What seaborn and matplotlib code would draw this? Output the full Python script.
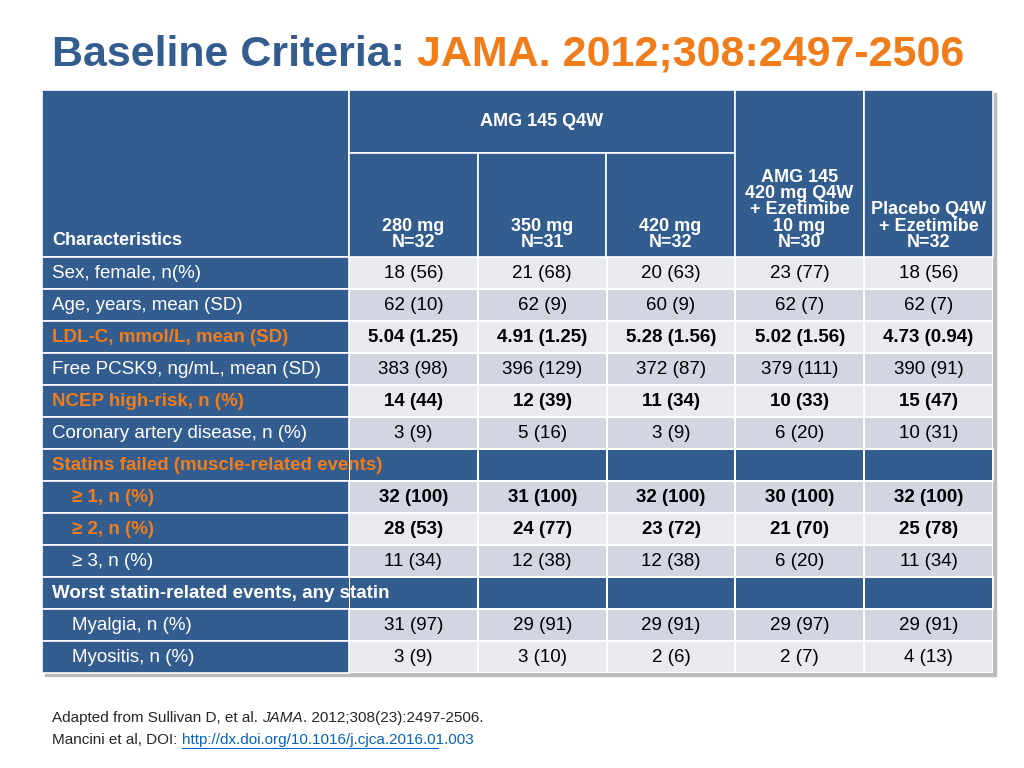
import numpy as np
import seaborn as sns
import matplotlib.pyplot as plt
from matplotlib.colors import ListedColormap
from matplotlib.patches import Rectangle

sns.set_style('white')
plt.rcParams['font.family'] = ['Liberation Sans Narrow', 'Liberation Sans', 'DejaVu Sans']

BLUE = '#345d8f'
ORANGE = '#f07c1a'
LIGHT = '#e9eaef'
DARK = '#d1d6e0'

groups = ['280 mg\nN=32', '350 mg\nN=31', '420 mg\nN=32',
          'AMG 145\n420 mg Q4W\n+ Ezetimibe\n10 mg\nN=30', 'Placebo Q4W\n+ Ezetimibe\nN=32']
row_labels = ['Sex, female, n(%)', 'Age, years, mean (SD)', 'LDL-C, mmol/L, mean (SD)',
              'Free PCSK9, ng/mL, mean (SD)', 'NCEP high-risk, n (%)', 'Coronary artery disease, n (%)',
              'Statins failed (muscle-related events)', '≥ 1, n (%)', '≥ 2, n (%)', '≥ 3, n (%)',
              'Worst statin-related events, any statin', 'Myalgia, n (%)', 'Myositis, n (%)']
values = [
    ['18 (56)', '21 (68)', '20 (63)', '23 (77)', '18 (56)'],
    ['62 (10)', '62 (9)', '60 (9)', '62 (7)', '62 (7)'],
    ['5.04 (1.25)', '4.91 (1.25)', '5.28 (1.56)', '5.02 (1.56)', '4.73 (0.94)'],
    ['383 (98)', '396 (129)', '372 (87)', '379 (111)', '390 (91)'],
    ['14 (44)', '12 (39)', '11 (34)', '10 (33)', '15 (47)'],
    ['3 (9)', '5 (16)', '3 (9)', '6 (20)', '10 (31)'],
    None,
    ['32 (100)', '31 (100)', '32 (100)', '30 (100)', '32 (100)'],
    ['28 (53)', '24 (77)', '23 (72)', '21 (70)', '25 (78)'],
    ['11 (34)', '12 (38)', '12 (38)', '6 (20)', '11 (34)'],
    None,
    ['31 (97)', '29 (91)', '29 (91)', '29 (97)', '29 (91)'],
    ['3 (9)', '3 (10)', '2 (6)', '2 (7)', '4 (13)'],
]
orange_rows = [2, 4, 6, 7, 8]
bold_rows = [2, 4, 7, 8]
indent_rows = [7, 8, 9, 11, 12]
section_rows = [6, 10]

W, H = 1024, 768
fig = plt.figure(figsize=(10.24, 7.68), dpi=100)
bg = fig.add_axes([0, 0, 1, 1])
bg.set_xlim(0, W)
bg.set_ylim(H, 0)
bg.axis('off')

xs = [42, 349, 478, 606, 735, 864, 993]
y_top, y_mid, y_body = 90, 153, 257
rh = 32
n = len(row_labels)
y_end = y_body + rh * n

# shadow
bg.add_patch(Rectangle((xs[0] + 3, y_top + 3), xs[-1] - xs[0], y_end - y_top, color='#bbbbbb', zorder=0))

# title
t1 = bg.text(52, 55, 'Baseline Criteria: ', fontsize=31, fontweight='bold', color=BLUE, va='center')
fig.canvas.draw()
bb = t1.get_window_extent()
bg.text(52 + bb.width, 55, 'JAMA. 2012;308:2497-2506', fontsize=31, fontweight='bold',
        color=ORANGE, va='center')

# header cells
def cell(x0, y0, x1, y1, c):
    bg.add_patch(Rectangle((x0, y0), x1 - x0, y1 - y0, facecolor=c, edgecolor='white', lw=1.2, zorder=1))

cell(xs[0], y_top, xs[1], y_body, BLUE)
cell(xs[1], y_top, xs[4], y_mid, BLUE)
for i in range(3):
    cell(xs[1 + i], y_mid, xs[2 + i], y_body, BLUE)
cell(xs[4], y_top, xs[5], y_body, BLUE)
cell(xs[5], y_top, xs[6], y_body, BLUE)
kw = dict(color='white', fontweight='bold', fontsize=13, ha='center', linespacing=0.95, zorder=3)
bg.text(52, y_body - 8, 'Characteristics', color='white', fontweight='bold', fontsize=13, va='bottom', zorder=3)
bg.text((xs[1] + xs[4]) / 2, 121, 'AMG 145 Q4W', va='center', **kw)
for i, g in enumerate(groups):
    bg.text((xs[1 + i] + xs[2 + i]) / 2, y_body - 6, g, va='bottom', **kw)

# label column and section rows
for i, lab in enumerate(row_labels):
    y0 = y_body + i * rh
    right = xs[-1] if i in section_rows else xs[1]
    cell(xs[0], y0, right, y0 + rh, BLUE)
    x = 72 if i in indent_rows else 52
    bg.text(x, y0 + rh / 2, lab, va='center', fontsize=13.5, zorder=3,
            color=ORANGE if i in orange_rows else 'white',
            fontweight='bold' if i in bold_rows or i in section_rows else 'normal')

# data grid via seaborn heatmap
shade = np.array([[i % 2] * 5 for i in range(n)], dtype=float)
mask = np.zeros_like(shade, dtype=bool)
mask[section_rows, :] = True
hx = fig.add_axes([xs[1] / W, 1 - y_end / H, (xs[-1] - xs[1]) / W, (y_end - y_body) / H])
sns.heatmap(shade, mask=mask, cmap=ListedColormap([LIGHT, DARK]), cbar=False,
            linewidths=1.2, linecolor='white', ax=hx, xticklabels=False, yticklabels=False)
hx.patch.set_alpha(0)
for i, row in enumerate(values):
    if row is None:
        continue
    for j, v in enumerate(row):
        hx.text(j + 0.5, i + 0.5, v, ha='center', va='center', fontsize=13.5, color='black',
                fontweight='bold' if i in bold_rows else 'normal')

# footnote
bg.text(52, 718, 'Adapted from Sullivan D, et al. ', fontsize=11, va='center')
fig.canvas.draw()
f1 = bg.texts[-1].get_window_extent().width
t = bg.text(52 + f1, 718, 'JAMA', fontsize=11, va='center', style='italic')
fig.canvas.draw()
f2 = t.get_window_extent().width
bg.text(52 + f1 + f2, 718, '. 2012;308(23):2497-2506.', fontsize=11, va='center')
bg.text(52, 740, 'Mancini et al, DOI: ', fontsize=11, va='center')
fig.canvas.draw()
f3 = bg.texts[-1].get_window_extent().width
bg.text(52 + f3, 740, 'http://dx.doi.org/10.1016/j.cjca.2016.01.003', fontsize=11, va='center',
        color='#0563c1', usetex=False).set_url('http://dx.doi.org/10.1016/j.cjca.2016.01.003')
bg.plot([52 + f3, 438], [748, 748], color='#0563c1', lw=0.8)

fig.savefig('out.png', dpi=100)
